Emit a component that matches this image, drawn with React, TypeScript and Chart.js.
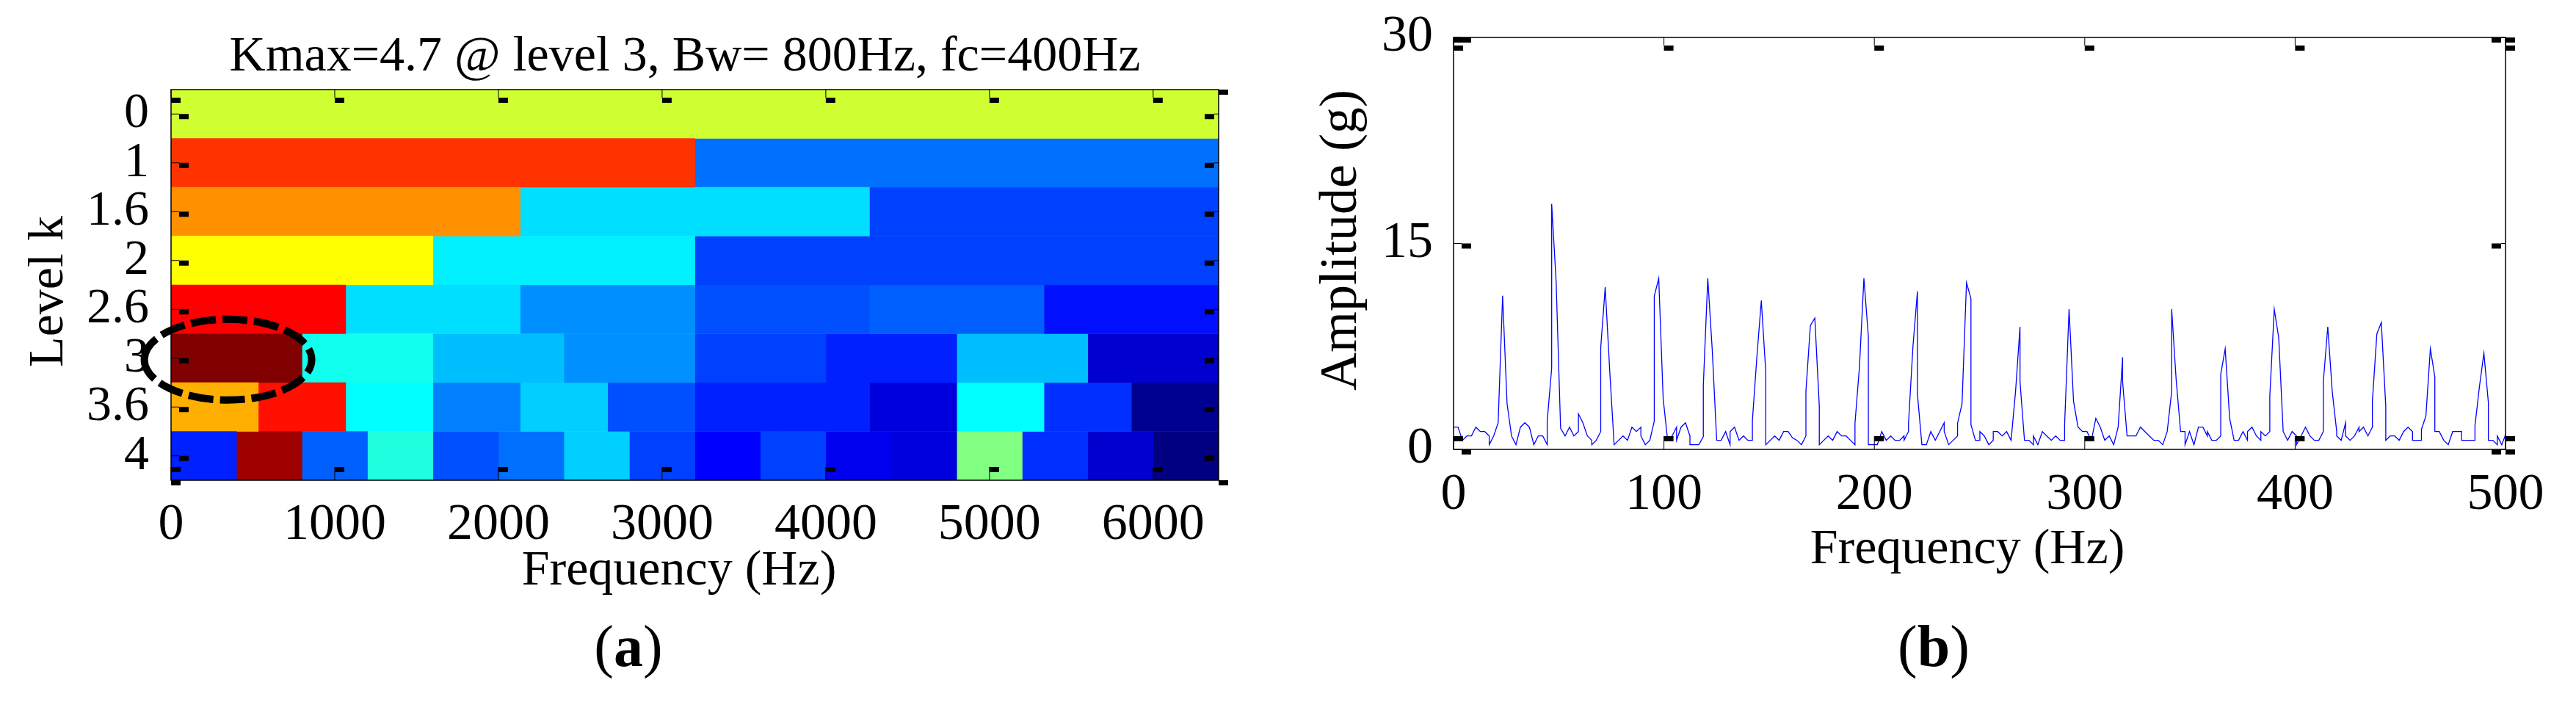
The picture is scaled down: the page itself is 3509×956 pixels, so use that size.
import { useEffect, useRef } from "react";
import { Chart, registerables } from "chart.js";

Chart.register(...registerables);

const FONT = '"Liberation Serif", "Times New Roman", serif';

// (a) kurtogram
const levels = ["0", "1", "1.6", "2", "2.6", "3", "3.6", "4"];
const freqTicks = [0, 1000, 2000, 3000, 4000, 5000, 6000];
const rowEdges = [
  [0, 6400],
  [0, 3200, 6400],
  [0, 2133, 4267, 6400],
  [0, 1600, 3200, 6400],
  [0, 1067, 2133, 3200, 4267, 5333, 6400],
  [0, 800, 1600, 2400, 3200, 4000, 4800, 5600, 6400],
  [0, 533, 1067, 1600, 2133, 2667, 3200, 3733, 4267, 4800, 5333, 5867, 6400],
  [0, 400, 800, 1200, 1600, 2000, 2400, 2800, 3200, 3600, 4000, 4400, 4800, 5200, 5600, 6000, 6400],
];
const rowColors = [
  ["#CFFF30"],
  ["#FF3300", "#0070FF"],
  ["#FF9000", "#00DFFF", "#0040FF"],
  ["#FFFF00", "#00F0FF", "#0040FF"],
  ["#FF0000", "#00DFFF", "#008FFF", "#0050FF", "#0060FF", "#0010FF"],
  ["#800000", "#10FFEF", "#00BFFF", "#0090FF", "#0040FF", "#0020FF", "#00BFFF", "#0000CF"],
  ["#FFAF00", "#FF1000", "#00FFFF", "#0080FF", "#00CFFF", "#0050FF", "#0020FF", "#0020FF", "#0000DF", "#00FFFF", "#0030FF", "#000090"],
  ["#0020FF", "#9F0000", "#0060FF", "#20FFDF", "#0050FF", "#0070FF", "#00CFFF", "#0040FF", "#0000FF", "#0040FF", "#0000EF", "#0000DF", "#80FF80", "#0030FF", "#0000CF", "#000080"],
];

// (b) envelope spectrum, bin numbers repeat where the trace has a vertical step
const binHz = 2.12;
const specBins = [
  0, 1, 2, 3, 4, 5, 6, 7, 8, 8, 9, 10, 11, 12, 13, 14, 15, 16, 17, 18, 19, 20, 21, 21, 22, 22,
  23, 24, 25, 26, 27, 28, 28, 29, 30, 31, 31, 32, 33, 33, 34, 35, 36, 37, 38, 39, 40, 41, 42, 42, 43, 44, 45, 45,
  46, 47, 48, 49, 50, 50, 51, 52, 53, 53, 54, 55, 56, 56, 57, 58, 59, 60, 61, 62, 62, 63, 64, 65, 66, 67, 67,
  68, 69, 70, 70, 71, 72, 73, 74, 75, 76, 77, 78, 79, 79, 80, 81, 82, 82, 83, 84, 85, 86, 87, 88, 89, 90, 90,
  91, 92, 93, 93, 94, 95, 96, 97, 98, 99, 100, 101, 101, 102, 102, 103, 104, 104, 105, 106, 107, 108, 109, 110, 110,
  111, 112, 113, 113, 114, 115, 116, 116, 117, 118, 118, 119, 120, 121, 121, 122, 123, 124, 125, 126, 127, 127,
  128, 129, 130, 130, 131, 132, 133, 134, 135, 136, 137, 137, 138, 139, 140, 141, 142, 143, 144, 145, 146, 147, 148, 149,
  150, 150, 151, 152, 153, 154, 155, 156, 157, 158, 159, 160, 161, 161, 162, 163, 164, 164, 165, 166, 167, 168, 169, 169,
  170, 171, 172, 172, 173, 174, 175, 176, 177, 178, 178, 179, 180, 181, 181, 182, 183, 183, 184, 185, 186, 187, 188, 189, 189,
  190, 191, 192, 193, 194, 195, 195, 196, 197, 198, 198, 199, 200, 200, 201, 202, 203, 203, 204, 205, 206, 206,
  207, 208, 209, 209, 210, 211, 212, 213, 214, 215, 215, 216, 217, 217, 218, 219, 220, 220, 221, 222, 223, 224, 225, 226, 226,
  227, 228, 229, 229, 230, 231, 232, 232, 233, 234, 234, 235, 236,
];
const specAmp = [
  1.62, 1.62, 0.66, 0.98, 0.98, 1.62, 1.30, 1.30, 0.98, 0.34, 0.98, 1.94, 11.19, 3.33, 0.98, 0.34, 1.62, 1.94, 1.62, 0.34, 0.98, 0.98, 0.34, 2.08, 5.91, 17.88,
  12.22, 1.55, 0.98, 1.62, 0.98, 1.30, 2.58, 1.94, 0.98, 0.66, 0.34, 0.66, 1.30, 7.42, 11.81, 5.82, 0.34, 0.66, 0.98, 0.66, 1.62, 1.30, 1.62, 0.98, 0.34, 0.66, 2.05, 11.16,
  12.46, 3.68, 0.66, 0.98, 1.62, 0.66, 1.62, 1.94, 0.98, 0.34, 0.34, 0.34, 0.93, 4.66, 12.46, 7.24, 0.66, 0.66, 1.30, 0.34, 1.30, 1.62, 0.66, 0.98, 0.66, 0.66, 2.08,
  6.71, 10.84, 5.64, 0.34, 0.66, 0.98, 0.66, 1.30, 1.30, 0.84, 0.66, 0.34, 0.98, 4.22, 9.02, 9.56, 3.15, 0.34, 0.66, 0.98, 0.66, 1.30, 0.98, 0.98, 0.66, 0.34, 1.90,
  6.00, 12.46, 8.22, 0.34, 0.34, 0.34, 1.30, 0.66, 0.98, 0.66, 0.66, 0.98, 0.66, 1.30, 1.90, 7.51, 11.51, 4.04, 0.34, 0.34, 1.30, 0.66, 1.30, 1.94, 1.30,
  0.34, 0.66, 0.98, 1.90, 3.33, 12.14, 10.98, 1.81, 0.66, 0.66, 1.30, 0.98, 0.34, 0.66, 1.30, 1.30, 0.98, 1.30, 0.66, 4.22, 8.93, 4.93,
  0.66, 0.66, 0.34, 0.98, 0.34, 1.30, 0.98, 0.66, 0.98, 0.66, 0.66, 1.81, 10.21, 3.51, 1.64, 1.30, 1.30, 0.66, 2.26, 1.62, 0.66, 0.98, 0.34, 1.62,
  6.71, 4.93, 0.98, 0.98, 0.98, 1.62, 1.30, 0.98, 0.66, 0.66, 0.34, 1.30, 4.22, 10.21, 5.11, 1.30, 1.30, 0.34, 1.30, 0.34, 1.62, 1.62, 0.98, 1.30,
  0.66, 0.66, 0.98, 5.46, 7.33, 2.26, 0.66, 0.66, 1.30, 0.66, 1.30, 1.62, 0.98, 0.66, 1.30, 0.98, 1.30, 3.86, 10.21, 8.13, 1.30, 0.66, 1.30, 0.98, 0.34,
  0.98, 1.62, 0.98, 0.66, 0.66, 1.30, 4.93, 8.93, 4.22, 1.30, 0.98, 0.66, 1.94, 0.98, 0.66, 0.98, 1.62, 1.30, 1.62, 0.98, 1.62, 3.51,
  8.40, 9.25, 3.15, 0.66, 0.98, 0.98, 0.66, 1.30, 1.62, 1.30, 0.66, 0.66, 0.66, 1.46, 2.44, 7.33, 5.28, 1.30, 1.30, 0.66, 0.34, 1.30, 1.30, 1.30, 0.66,
  0.66, 0.66, 0.66, 1.73, 4.57, 7.01, 3.42, 0.66, 0.66, 0.34, 0.98, 0.34, 1.19,
];

type Label = { text: string; x: number; y: number; size: number; rotate?: boolean };

const BLOB_W = 13;
const BLOB_H = 7;

// axes get a fixed size and no extra room for their end labels
const fixAxis = (prop: "width" | "height", size: number) => (s: any) => {
  s[prop] = size;
  s.paddingTop = 0;
  s.paddingBottom = 0;
  s.paddingLeft = 0;
  s.paddingRight = 0;
};

// black axis box, inward ticks with the square blobs at their tips
const frameMarks = (corner: "leftBottom" | "leftTop") => ({
  id: "frameMarks",
  afterDatasetsDraw(chart: any) {
    const { ctx, chartArea: a, scales } = chart;
    ctx.save();
    ctx.strokeStyle = "#000";
    ctx.fillStyle = "#000";
    ctx.lineWidth = 1.5;
    ctx.strokeRect(a.left, a.top, a.right - a.left, a.bottom - a.top);
    ctx.lineWidth = 1;
    scales.x.ticks.forEach((_: any, i: number) => {
      const x = scales.x.getPixelForTick(i);
      ctx.beginPath();
      ctx.moveTo(x, a.bottom);
      ctx.lineTo(x, a.bottom - 18);
      ctx.moveTo(x, a.top);
      ctx.lineTo(x, a.top + 11);
      ctx.stroke();
      ctx.fillRect(x, a.bottom - 18, BLOB_W, BLOB_H);
      ctx.fillRect(x, a.top + 11, BLOB_W, BLOB_H);
    });
    scales.y.ticks.forEach((_: any, i: number) => {
      const y = scales.y.getPixelForTick(i);
      ctx.beginPath();
      ctx.moveTo(a.left, y);
      ctx.lineTo(a.left + 11, y);
      ctx.moveTo(a.right, y);
      ctx.lineTo(a.right - 6, y);
      ctx.stroke();
      ctx.fillRect(a.left + 11, y, BLOB_W, BLOB_H);
      ctx.fillRect(a.right - 6 - BLOB_W, y, BLOB_W, BLOB_H);
    });
    ctx.fillRect(a.right, a.top, BLOB_W, BLOB_H);
    ctx.fillRect(a.right, a.bottom, BLOB_W, BLOB_H);
    ctx.fillRect(a.left, corner === "leftBottom" ? a.bottom : a.top, BLOB_W, BLOB_H);
    ctx.restore();
  },
});

// x, y are the baseline centre of each text
const textLabels = (labels: Label[]) => ({
  id: "textLabels",
  afterDraw(chart: any) {
    const { ctx } = chart;
    ctx.save();
    ctx.fillStyle = "#000";
    ctx.textAlign = "center";
    ctx.textBaseline = "alphabetic";
    labels.forEach((l) => {
      ctx.save();
      ctx.translate(l.x, l.y);
      if (l.rotate) ctx.rotate(-Math.PI / 2);
      ctx.font = `${l.size}px ${FONT}`;
      ctx.fillText(l.text, 0, 0);
      ctx.restore();
    });
    ctx.restore();
  },
});

// dashed ring around the level 3, fc=400Hz cell
const kmaxRing = {
  id: "kmaxRing",
  afterDatasetsDraw(chart: any) {
    const { ctx, scales } = chart;
    const cx = scales.x.getPixelForValue(348);
    const cy = scales.y.getPixelForValue(5);
    ctx.save();
    ctx.strokeStyle = "#000";
    ctx.lineWidth = 10;
    ctx.setLineDash([34, 9]);
    ctx.beginPath();
    ctx.ellipse(cx, cy + 2, 114, 55, 0, Math.PI, Math.PI * 3);
    ctx.stroke();
    ctx.restore();
  },
};

function Kurtogram() {
  const ref = useRef<HTMLCanvasElement>(null);
  useEffect(() => {
    const canvas = ref.current;
    if (!canvas) return;
    const layers = Math.max(...rowColors.map((r) => r.length));
    const datasets = [];
    for (let i = 0; i < layers; i++) {
      datasets.push({
        data: levels.map((_, r) => (rowColors[r][i] ? [rowEdges[r][i], rowEdges[r][i + 1]] : null)),
        backgroundColor: levels.map((_, r) => rowColors[r][i] ?? "transparent"),
        borderWidth: 0,
        barPercentage: 1,
        categoryPercentage: 1,
        grouped: false,
      });
    }
    const chart = new Chart(canvas, {
      type: "bar",
      data: { labels: levels, datasets: datasets as any },
      plugins: [
        frameMarks("leftBottom"),
        kmaxRing,
        textLabels([
          { text: "Kmax=4.7 @ level 3, Bw= 800Hz, fc=400Hz", x: 933, y: 96, size: 68 },
          { text: "Frequency (Hz)", x: 925, y: 796, size: 68 },
          { text: "Level k", x: 85, y: 397, size: 68, rotate: true },
        ]),
      ],
      options: {
        indexAxis: "y",
        animation: false,
        responsive: false,
        devicePixelRatio: 1,
        layout: { autoPadding: false, padding: { top: 122, right: 95 } },
        plugins: { legend: { display: false }, tooltip: { enabled: false } },
        scales: {
          x: {
            type: "linear",
            min: 0,
            max: 6400,
            afterFit: fixAxis("height", 302),
            afterBuildTicks: (s: any) => { s.ticks = freqTicks.map((value) => ({ value })); },
            grid: { display: false, drawTicks: false },
            border: { display: false },
            ticks: {
              autoSkip: false,
              maxRotation: 0,
              padding: 20,
              color: "#000",
              font: { family: FONT, size: 70 },
              callback: (v: any) => String(v),
            },
          },
          y: {
            afterFit: fixAxis("width", 233),
            grid: { display: false, drawTicks: false },
            border: { display: false },
            ticks: {
              autoSkip: false,
              padding: 30,
              color: "#000",
              font: { family: FONT, size: 68 },
            },
          },
        },
      },
    } as any);
    return () => chart.destroy();
  }, []);
  return <canvas ref={ref} width={1755} height={956} style={{ position: "absolute", left: 0, top: 0 }} />;
}

function Spectrum() {
  const ref = useRef<HTMLCanvasElement>(null);
  useEffect(() => {
    const canvas = ref.current;
    if (!canvas) return;
    const chart = new Chart(canvas, {
      type: "scatter",
      data: {
        datasets: [
          {
            data: specBins.map((b, i) => ({ x: b * binHz, y: specAmp[i] })),
            showLine: true,
            borderColor: "#0000FF",
            borderWidth: 1.3,
            pointRadius: 0,
          },
        ],
      },
      plugins: [
        frameMarks("leftTop"),
        textLabels([
          { text: "Frequency (Hz)", x: 925, y: 767, size: 68 },
          { text: "Amplitude (g)", x: 92, y: 327, size: 72, rotate: true },
        ]),
      ],
      options: {
        animation: false,
        responsive: false,
        devicePixelRatio: 1,
        layout: { autoPadding: false, padding: { top: 51, right: 96 } },
        plugins: { legend: { display: false }, tooltip: { enabled: false } },
        scales: {
          x: {
            type: "linear",
            min: 0,
            max: 500,
            afterFit: fixAxis("height", 344),
            grid: { display: false, drawTicks: false },
            border: { display: false },
            ticks: {
              stepSize: 100,
              autoSkip: false,
              maxRotation: 0,
              padding: 21,
              color: "#000",
              font: { family: FONT, size: 70 },
            },
          },
          y: {
            type: "linear",
            min: 0,
            max: 30,
            afterFit: fixAxis("width", 225),
            grid: { display: false, drawTicks: false },
            border: { display: false },
            ticks: {
              stepSize: 15,
              autoSkip: false,
              padding: 28,
              color: "#000",
              font: { family: FONT, size: 70 },
            },
          },
        },
      },
    } as any);
    return () => chart.destroy();
  }, []);
  return <canvas ref={ref} width={1754} height={956} style={{ position: "absolute", left: 1755, top: 0 }} />;
}

function Caption({ x, letter }: { x: number; letter: string }) {
  return (
    <div
      style={{
        position: "absolute",
        left: x - 100,
        top: 836,
        width: 200,
        textAlign: "center",
        fontFamily: FONT,
        fontSize: 80,
        lineHeight: "88px",
        color: "#000",
      }}
    >
      (<b>{letter}</b>)
    </div>
  );
}

export default function App() {
  return (
    <div style={{ position: "absolute", left: 0, top: 0, width: 3509, height: 956, background: "#fff", overflow: "hidden" }}>
      <Kurtogram />
      <Spectrum />
      <Caption x={856} letter="a" />
      <Caption x={2634} letter="b" />
    </div>
  );
}
